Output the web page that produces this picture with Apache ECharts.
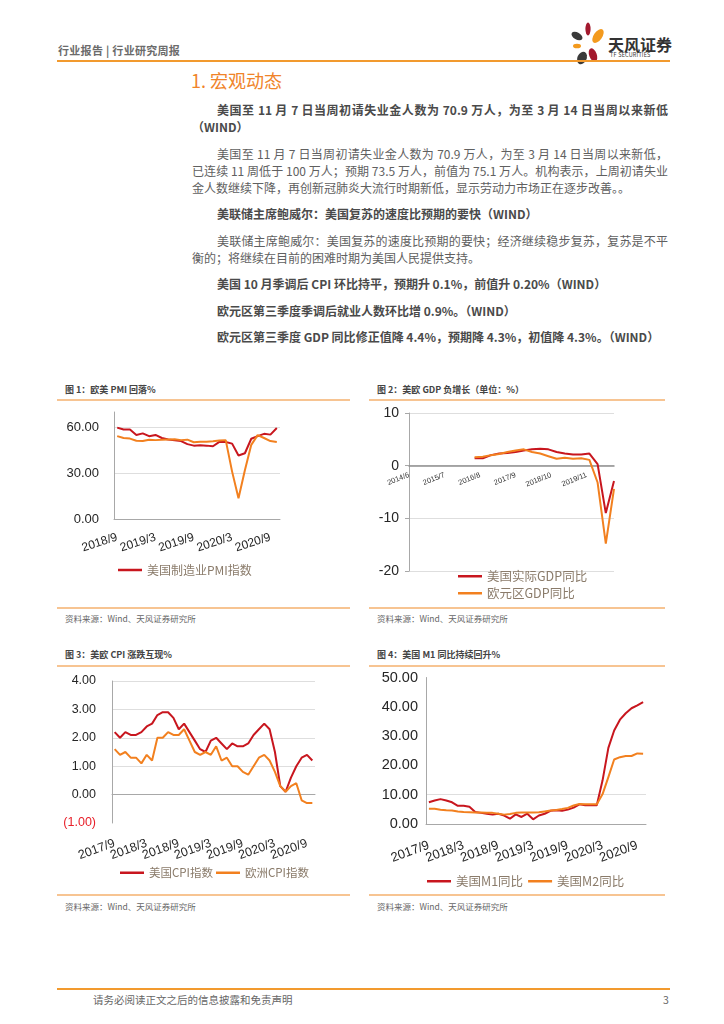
<!DOCTYPE html>
<html><head><meta charset="utf-8">
<script src="https://cdn.jsdelivr.net/npm/echarts@6/dist/echarts.min.js"></script>
<style>
html,body{margin:0;padding:0;background:#fff}
body{width:724px;height:1024px;position:relative;overflow:hidden;font-family:"Noto Sans CJK SC","Noto Sans",sans-serif}
.a{position:absolute;white-space:nowrap}
.rule{position:absolute;height:2px;background:#F29A2E}
.crule{position:absolute;height:1.5px;background:#F7C492}
.hdr{left:58px;top:42px;font-size:11px;line-height:16px;font-weight:bold;color:#6b6b6b;letter-spacing:0.3px}
.h1{left:191px;top:68px;font-size:18px;line-height:24px;color:#F0842A}
.ln{position:absolute;left:192px;width:476px;font-size:12px;line-height:17px;color:#606060;white-space:nowrap}
.j{text-align:justify;text-align-last:justify}
.b{font-weight:bold;color:#4a4a4a}
.ind{left:217px;width:451px}
.ct{font-size:9px;line-height:12px;font-weight:bold;color:#444}
.src{font-size:8.5px;line-height:12px;color:#666}
.ch{position:absolute}
</style></head>
<body>
<div class="a hdr">行业报告&nbsp;|&nbsp;行业研究周报</div>
<svg class="a" style="left:568px;top:21px" width="40" height="46" viewBox="0 0 40 46">
  <ellipse cx="20" cy="8" rx="2.6" ry="6.5" fill="#A3192E"/>
  <ellipse cx="30" cy="15" rx="4.2" ry="8" fill="#F39A1E" transform="rotate(35 30 15)"/>
  <ellipse cx="9" cy="15" rx="6" ry="3.6" fill="#3A3A3A" transform="rotate(30 9 15)"/>
  <ellipse cx="9" cy="25" rx="4" ry="2.3" fill="#F39A1E"/>
  <ellipse cx="14" cy="37" rx="4.6" ry="6.5" fill="#3A3A3A" transform="rotate(25 14 37)"/>
  <ellipse cx="25" cy="34" rx="3.8" ry="7" fill="#A3192E" transform="rotate(-20 25 34)"/>
</svg>
<div class="a" style="left:608px;top:34px;font-size:16px;line-height:20px;font-weight:bold;color:#333">天风证券</div>
<div class="a" style="left:610px;top:52px;font-size:5.5px;line-height:7px;color:#333;letter-spacing:0.2px">TF SECURITIES</div>
<div class="rule" style="left:57px;top:60px;width:613px"></div>

<div class="a h1">1. 宏观动态</div>

<div class="ln b ind j" style="top:101px">美国至 11 月 7 日当周初请失业金人数为 70.9 万人，为至 3 月 14 日当周以来新低</div>
<div class="ln b" style="top:118px">（WIND）</div>

<div class="ln ind j" style="top:145px">美国至 11 月 7 日当周初请失业金人数为 70.9 万人，为至 3 月 14 日当周以来新低，</div>
<div class="ln j" style="top:162px">已连续 11 周低于 100 万人；预期 73.5 万人，前值为 75.1 万人。机构表示，上周初请失业</div>
<div class="ln" style="top:179px">金人数继续下降，再创新冠肺炎大流行时期新低，显示劳动力市场正在逐步改善。。</div>

<div class="ln b ind" style="top:205px">美联储主席鲍威尔：美国复苏的速度比预期的要快（WIND）</div>

<div class="ln ind j" style="top:232px">美联储主席鲍威尔：美国复苏的速度比预期的要快；经济继续稳步复苏，复苏是不平</div>
<div class="ln" style="top:249px">衡的；将继续在目前的困难时期为美国人民提供支持。</div>

<div class="ln b ind" style="top:275px">美国 10 月季调后 CPI 环比持平，预期升 0.1%，前值升 0.20%（WIND）</div>
<div class="ln b ind" style="top:302px">欧元区第三季度季调后就业人数环比增 0.9%。（WIND）</div>
<div class="ln b ind" style="top:328px">欧元区第三季度 GDP 同比修正值降 4.4%，预期降 4.3%，初值降 4.3%。（WIND）</div>

<div class="a ct" style="left:65px;top:384px">图 1：欧美 PMI 回落%</div>
<div class="crule" style="left:57px;top:399px;width:293px"></div>
<div class="a ct" style="left:377px;top:384px">图 2：美欧 GDP 负增长（单位：%）</div>
<div class="crule" style="left:369px;top:399px;width:296px"></div>

<div id="c1" class="ch" style="left:50px;top:403px;width:300px;height:200px"></div>
<div id="c2" class="ch" style="left:360px;top:403px;width:310px;height:200px"></div>

<div class="crule" style="left:57px;top:607px;width:293px"></div>
<div class="a src" style="left:65px;top:612px">资料来源：Wind、天风证券研究所</div>
<div class="crule" style="left:369px;top:607px;width:296px"></div>
<div class="a src" style="left:377px;top:612px">资料来源：Wind、天风证券研究所</div>

<div class="a ct" style="left:65px;top:649px">图 3：美欧 CPI 涨跌互现%</div>
<div class="crule" style="left:57px;top:665px;width:293px"></div>
<div class="a ct" style="left:377px;top:649px">图 4：美国 M1 同比持续回升%</div>
<div class="crule" style="left:369px;top:665px;width:296px"></div>

<div id="c3" class="ch" style="left:50px;top:670px;width:310px;height:220px"></div>
<div id="c4" class="ch" style="left:360px;top:670px;width:310px;height:220px"></div>

<div class="crule" style="left:57px;top:894px;width:293px"></div>
<div class="a src" style="left:65px;top:900px">资料来源：Wind、天风证券研究所</div>
<div class="crule" style="left:369px;top:894px;width:296px"></div>
<div class="a src" style="left:377px;top:900px">资料来源：Wind、天风证券研究所</div>

<div class="rule" style="left:57px;top:988px;width:613px"></div>
<div class="a" style="left:93px;top:993px;font-size:10.5px;line-height:14px;color:#666">请务必阅读正文之后的信息披露和免责声明</div>
<div class="a" style="left:663px;top:993px;font-size:10.5px;line-height:14px;color:#666">3</div>

<script>
// ---------- data ----------
function monthSeq(y, m, n) { const a = []; for (let i = 0; i < n; i++) { a.push(y + '/' + m); m++; if (m > 12) { m = 1; y++; } } return a; }

// Chart 1: PMI, monthly 2018/9 - 2020/10
const pmiMonths = monthSeq(2018, 9, 26);
const pmiUS = [59.8,58.5,58.5,55.0,56.0,54.2,55.0,53.0,52.0,51.5,51.0,49.0,48.0,48.3,48.0,47.6,50.5,50.4,49.3,41.5,43.0,52.5,54.2,55.7,55.2,59.5];
const pmiEU = [54.2,53.0,52.6,51.2,51.0,51.9,51.6,51.8,52.0,52.2,51.6,51.9,50.2,50.6,50.6,50.9,51.3,51.6,31.0,13.6,31.9,48.5,54.9,53.0,51.0,50.4];
const pmiNames = ['美国制造业PMI指数', '欧元区PMI'];

// Chart 2: GDP yoy, quarterly, on a monthly axis 2014/6 - 2020/9
const gdpMonths = monthSeq(2014, 6, 76);
const gdpQuarters = ['2016/6','2016/9','2016/12','2017/3','2017/6','2017/9','2017/12','2018/3','2018/6','2018/9','2018/12','2019/3','2019/6','2019/9','2019/12','2020/3','2020/6','2020/9'];
const gdpUS = [1.4,1.4,2.0,2.3,2.4,2.6,2.9,3.1,3.2,3.1,2.6,2.3,2.1,2.1,2.3,0.3,-9.0,-2.9];
const gdpEU = [1.6,1.7,2.0,2.2,2.6,2.9,3.1,2.6,2.3,1.8,1.3,1.5,1.3,1.4,1.1,-3.2,-14.8,-4.4];
const gdpNames = ['美国实际GDP同比', '欧元区GDP同比'];

// Chart 3: CPI yoy, monthly 2017/9 - 2020/10
const cpiMonths = monthSeq(2017, 9, 38);
const cpiUS = [2.2,2.0,2.2,2.1,2.1,2.2,2.4,2.5,2.8,2.9,2.9,2.7,2.3,2.5,2.2,1.9,1.6,1.5,1.9,2.0,1.8,1.6,1.8,1.7,1.7,1.8,2.1,2.3,2.5,2.3,1.5,0.3,0.1,0.6,1.0,1.3,1.4,1.2];
const cpiEU = [1.6,1.4,1.5,1.3,1.3,1.1,1.4,1.2,2.0,2.0,2.2,2.1,2.1,2.3,1.9,1.5,1.4,1.5,1.4,1.7,1.2,1.3,1.0,1.0,0.8,0.7,1.0,1.3,1.4,1.2,0.8,0.3,0.1,0.3,0.4,-0.2,-0.3,-0.3];
const cpiNames = ['美国CPI指数', '欧洲CPI指数'];

// Chart 4: US M1/M2 yoy, monthly 2017/9 - 2020/10
const moneyMonths = monthSeq(2017, 9, 38);
const m1 = [7.4,8.0,8.5,8.0,7.4,6.2,6.2,5.9,4.1,3.8,3.5,3.2,3.5,2.9,1.8,3.3,2.4,3.5,1.6,2.9,3.5,4.5,4.7,4.5,4.9,5.6,6.7,6.4,6.4,6.4,14.9,26.0,31.9,35.6,37.8,39.5,40.5,41.6];
const m2 = [5.2,5.2,4.9,4.7,4.6,4.3,4.1,4.0,3.9,3.9,3.8,3.8,3.5,3.2,3.4,3.8,3.9,3.9,3.9,4.0,4.3,4.6,4.8,5.1,5.5,6.3,6.8,6.7,6.7,6.7,10.2,16.0,22.0,22.8,23.2,23.2,24.1,24.0];
const moneyNames = ['美国M1同比', '美国M2同比'];

// ---------- styles ----------
const RED = '#C8161E', ORANGE = '#F2801F';
const AXIS = '#a8a8a8', GRIDC = '#dedede', LBL = '#262626', LEG = '#8a7b6a';
const NUMFONT = '"Liberation Sans", Arial, sans-serif';
const CJK = '"Noto Sans CJK SC", sans-serif';

function lineSeries(name, data, color, extra) {
  return Object.assign({ name, type: 'line', data, symbol: 'none', showSymbol: false,
    lineStyle: { width: 2, color }, itemStyle: { color }, emphasis: { disabled: true } }, extra || {});
}
function legendBase(extra, fs) {
  return Object.assign({ icon: 'rect', itemWidth: 24, itemHeight: 2.5, selectedMode: false,
    textStyle: { color: LEG, fontFamily: CJK, fontSize: fs || 12 } }, extra);
}
// every `step`-th category gets a label; others are blank
function xLabel(step, fs, rot, margin, color) {
  return { interval: 0, rotate: rot, fontSize: fs, color: color || LBL, fontFamily: NUMFONT, margin,
    hideOverlap: false, formatter: (v, i) => (i % step === 0 ? v : '') };
}

// Chart 1
echarts.init(document.getElementById('c1')).setOption({
  animation: false,
  grid: { left: 64, top: 9, width: 166, height: 107 },
  legend: legendBase({ data: [pmiNames[0]], left: 63, top: 156 }),
  xAxis: { type: 'category', data: pmiMonths, boundaryGap: true,
    axisLine: { lineStyle: { color: AXIS } },
    axisTick: { interval: 5, length: 4, lineStyle: { color: AXIS } },
    axisLabel: xLabel(6, 12, 18, 18) },
  yAxis: { type: 'value', min: 0, max: 70, interval: 30,
    axisLine: { show: true, lineStyle: { color: AXIS } }, axisTick: { show: false },
    splitLine: { show: true, showMaxLine: false, lineStyle: { color: GRIDC } },
    axisLabel: { formatter: v => v > 65 ? '' : v.toFixed(2), fontSize: 13, color: LBL, fontFamily: NUMFONT, margin: 15 } },
  series: [lineSeries(pmiNames[0], pmiUS, RED), lineSeries(pmiNames[1], pmiEU, ORANGE)]
});

// Chart 2
const gdpUSm = gdpMonths.map(m => { const i = gdpQuarters.indexOf(m); return i >= 0 ? gdpUS[i] : null; });
const gdpEUm = gdpMonths.map(m => { const i = gdpQuarters.indexOf(m); return i >= 0 ? gdpEU[i] : null; });
const g2Height = 158, g2Min = -20, g2Max = 10;
echarts.init(document.getElementById('c2')).setOption({
  animation: false,
  grid: { left: 49, top: 10, width: 205, height: g2Height },
  legend: [
    legendBase({ data: [gdpNames[0]], left: 93, top: 162 }, 12.5),
    legendBase({ data: [gdpNames[1]], left: 93, top: 179 }, 12.5)
  ],
  xAxis: { type: 'category', data: gdpMonths, boundaryGap: false, position: 'bottom',
    offset: -g2Height * (0 - g2Min) / (g2Max - g2Min),
    axisLine: { onZero: false, lineStyle: { color: '#8f8f8f', width: 1.5 } },
    axisTick: { show: false },
    axisLabel: xLabel(13, 7.5, 22, 9, '#333') },
  yAxis: { type: 'value', min: g2Min, max: g2Max, interval: 10,
    axisLine: { show: true, lineStyle: { color: AXIS } },
    axisTick: { show: true, length: 4, lineStyle: { color: AXIS } },
    splitLine: { show: true, lineStyle: { color: GRIDC } },
    axisLabel: { fontSize: 14, color: LBL, fontFamily: NUMFONT, margin: 10 } },
  series: [lineSeries(gdpNames[0], gdpUSm, RED, { connectNulls: true }),
           lineSeries(gdpNames[1], gdpEUm, ORANGE, { connectNulls: true })]
});

// Chart 3
echarts.init(document.getElementById('c3')).setOption({
  animation: false,
  grid: { left: 62, top: 11, width: 203, height: 142 },
  legend: legendBase({ data: cpiNames, left: 65, top: 192, itemGap: 3 }, 11.5),
  xAxis: { type: 'category', data: cpiMonths, boundaryGap: true,
    axisLine: { lineStyle: { color: AXIS } },
    axisTick: { interval: 5, length: 4, lineStyle: { color: AXIS } },
    axisLabel: xLabel(6, 12.5, 20, 20) },
  yAxis: { type: 'value', min: -1, max: 4, interval: 1,
    axisLine: { show: true, lineStyle: { color: AXIS } }, axisTick: { show: false },
    splitLine: { show: true, showMinLine: false, lineStyle: { color: GRIDC } },
    axisLabel: { formatter: v => v < 0 ? '{r|(' + (-v).toFixed(2) + ')}' : v.toFixed(2),
      rich: { r: { color: '#E8202A', fontSize: 12.5, fontFamily: NUMFONT } },
      fontSize: 12.5, color: LBL, fontFamily: NUMFONT, margin: 16 } },
  series: [lineSeries(cpiNames[0], cpiUS, RED), lineSeries(cpiNames[1], cpiEU, ORANGE)]
});

// Chart 4
const T = 'rgba(0,0,0,0)';
echarts.init(document.getElementById('c4')).setOption({
  animation: false,
  grid: { left: 66, top: 7, width: 220, height: 147 },
  legend: legendBase({ data: moneyNames, left: 62, top: 200, itemGap: 5 }, 12.5),
  xAxis: { type: 'category', data: moneyMonths, boundaryGap: true,
    axisLine: { lineStyle: { color: AXIS } },
    axisTick: { interval: 5, length: 4, lineStyle: { color: AXIS } },
    axisLabel: xLabel(6, 13, 20, 21) },
  yAxis: { type: 'value', min: 0, max: 50, interval: 10,
    axisLine: { show: true, lineStyle: { color: AXIS } }, axisTick: { show: false },
    splitLine: { show: true, lineStyle: { color: [T, GRIDC, T, T, T, T] } },
    axisLabel: { formatter: v => v.toFixed(2), fontSize: 14.5, color: LBL, fontFamily: NUMFONT, margin: 8 } },
  series: [lineSeries(moneyNames[0], m1, RED), lineSeries(moneyNames[1], m2, ORANGE)]
});
</script>
</body></html>
